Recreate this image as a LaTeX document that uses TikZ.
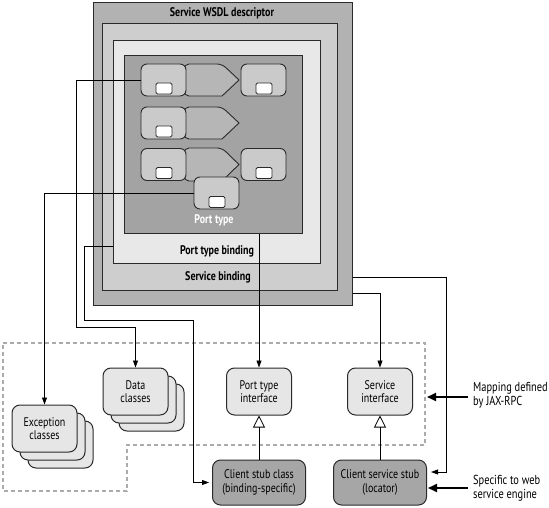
\documentclass[tikz,border=0pt]{standalone}
\usepackage{fontspec}
\setmainfont[FakeStretch=0.8]{PT Sans}
\usetikzlibrary{arrows.meta}
\definecolor{gA}{HTML}{B2B2B2}
\definecolor{gB}{HTML}{CECECE}
\definecolor{gC}{HTML}{E8E8E8}
\definecolor{gD}{HTML}{A3A3A3}
\definecolor{gComp}{HTML}{CACACA}
\definecolor{gArr}{HTML}{B6B6B6}
\definecolor{gCls}{HTML}{E6E6E6}
\definecolor{gStub}{HTML}{A6A6A6}
\definecolor{gDash}{HTML}{ABABAB}
\definecolor{edge}{HTML}{2A2A2A}
\begin{document}
\begin{tikzpicture}[x=1pt,y=-1pt,
  frame/.style={draw=edge, line width=1pt, anchor=north west, inner sep=0pt},
  ttl/.style={font=\fontsize{12.5}{13}\selectfont\bfseries, inner sep=0pt},
  comp/.style={draw=edge, line width=0.9pt, rounded corners=6pt, fill=gComp, minimum width=45pt, minimum height=32pt, inner sep=0pt},
  slot/.style={draw=edge, line width=0.8pt, fill=white, rounded corners=1.5pt, minimum width=16pt, minimum height=11pt, inner sep=0pt},
  arrshape/.style={draw=edge, line width=0.9pt, fill=gArr},
  cls/.style={draw=edge, line width=1pt, rounded corners=8pt, fill=gCls, minimum width=65pt, minimum height=47pt, align=center, inner sep=0pt, font=\fontsize{12.5}{13.5}\selectfont},
  stub/.style={cls, fill=gStub, minimum width=93pt, minimum height=45pt},
  conn/.style={draw=black, line width=0.8pt},
  arr/.style={conn, -{Triangle[length=7pt,width=5pt]}},
  inh/.style={conn, -{Triangle[open,length=12pt,width=12pt,fill=white]}},
  bigarr/.style={draw=black, line width=2pt, -{Triangle[length=9pt,width=8pt]}},
  ann/.style={anchor=west, align=left, inner sep=0pt, font=\fontsize{13}{13.5}\selectfont},
  dashbox/.style={draw=gDash, line width=1.2pt, dash pattern=on 4pt off 3pt}
]
\useasboundingbox (0,0) rectangle (549,508);
% nested frames
\node[frame, fill=gA, minimum width=259pt, minimum height=303pt] (wsdl) at (93,2) {};
\node[frame, fill=gB, minimum width=235pt, minimum height=267pt] (sb) at (102,23) {};
\node[frame, fill=gC, minimum width=207pt, minimum height=223pt] (ptb) at (113,40) {};
\node[frame, fill=gD, minimum width=178pt, minimum height=178pt] (ptf) at (124,55) {};
\node[ttl] (wsdlt) at (222,13) {Service WSDL descriptor};
\node[ttl] (sbt) at (218,277) {Service binding};
\node[ttl] (ptbt) at (217,251) {Port type binding};
\node[ttl, text=white] (ptft) at (214,220) {Port type};
% arrow shapes
\draw[arrshape] (222,64) -- (239,80) -- (222,96) [rounded corners=5pt] -- (184,96) -- (184,64) -- cycle;
\draw[arrshape] (222,107) -- (239,123) -- (222,139) [rounded corners=5pt] -- (184,139) -- (184,107) -- cycle;
\draw[arrshape] (222,148) -- (239,164.5) -- (222,181) [rounded corners=5pt] -- (184,181) -- (184,148) -- cycle;
% components
\node[comp] (r1a) at (163.5,80) {};
\node[comp] (r1c) at (263.5,80) {};
\node[comp] (r2a) at (163.5,123) {};
\node[comp] (r3a) at (163.5,164.5) {};
\node[comp] (r3c) at (263.5,164.5) {};
\node[comp] (pt) at (216.5,193) {};
\node[slot] (s1a) at (164,88.5) {};
\node[slot] (s1c) at (264,88.5) {};
\node[slot] (s2a) at (164,131.5) {};
\node[slot] (s3a) at (164,173) {};
\node[slot] (s3c) at (264,173) {};
\node[slot] (spt) at (217,202) {};
% dashed region
\draw[dashbox] (3,343) -- (425,343) -- (425,445) -- (127,445) -- (127,491) -- (3,491) -- cycle;
% class boxes
\node[cls] (exc3) at (60.5,444.5) {};
\node[cls] (exc2) at (52.5,436.5) {};
\node[cls] (exc) at (44.5,428.5) {Exception\\classes};
\node[cls] (dc3) at (151.5,407.5) {};
\node[cls] (dc2) at (143.5,399.5) {};
\node[cls] (dc) at (135.5,391.5) {Data\\classes};
\node[cls] (pti) at (259,391.5) {Port type\\interface};
\node[cls] (si) at (380,391.5) {Service\\interface};
\node[stub] (csc) at (259,482.5) {Client stub class\\(binding-specific)};
\node[stub] (css) at (380,482.5) {Client service stub\\(locator)};
% helper coordinates
\coordinate (y246) at (0,246);
\coordinate (y277) at (0,277);
\coordinate (y293) at (0,293);
% connectors
\draw[arr] (r1a.west) -| (76,327) -| (dc.north);
\draw[arr] (pt.west) -| (exc.north);
\draw[arr, shorten >=3pt] (ptb.west |- y246) -| (84,320) -| (193,482.5) -- (csc.west);
\draw[arr] (pti.north |- ptf.south) -- (pti.north);
\draw[arr] (wsdl.east |- y293) -| (si.north);
\draw[arr, shorten >=4pt] (wsdl.east |- y277) -| (446,472) -- ([yshift=10.5pt]css.east);
\draw[inh] (csc.north) -- (pti.south);
\draw[inh] (css.north) -- (si.south);
% annotations
\node[ann] (ann1) at (473,395) {Mapping defined\\by JAX-RPC};
\node[ann] (ann2) at (473,488) {Specific to web\\service engine};
\coordinate (dashR) at (427,0);
\draw[bigarr] ([xshift=-5pt]ann1.west |- 0,397) -- (dashR |- 0,397);
\draw[bigarr] ([xshift=-5pt]ann2.west |- 0,488) -- ([xshift=1pt]css.east |- 0,488);
\end{tikzpicture}
\end{document}
